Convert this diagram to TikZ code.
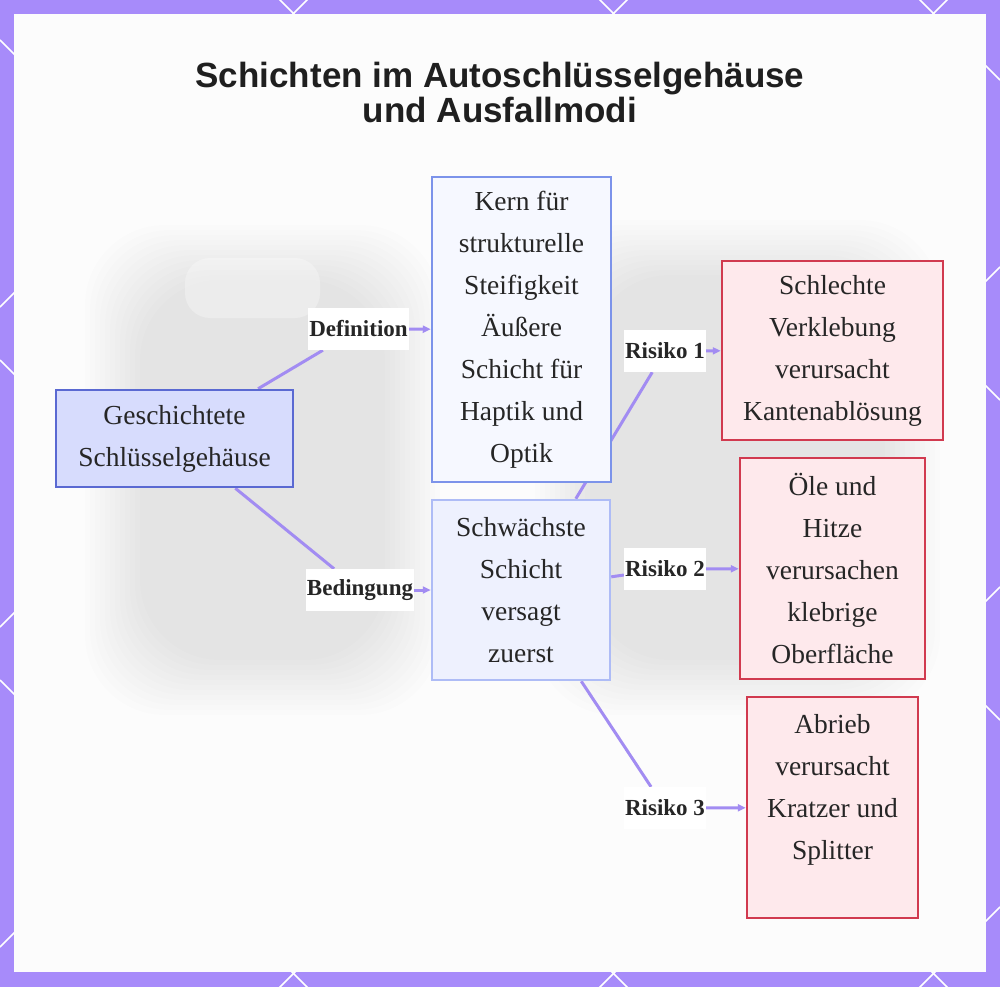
\documentclass[tikz,border=0pt]{standalone}
\usepackage{fontspec}
\setmainfont{Liberation Serif}
\newfontfamily\titlefont{Liberation Sans}
\usetikzlibrary{arrows.meta}

\definecolor{framec}{HTML}{A78BFA}
\definecolor{edgec}{HTML}{A28CF2}
\definecolor{geofill}{HTML}{D7DCFD}
\definecolor{geodraw}{HTML}{5A69D2}
\definecolor{kernfill}{HTML}{F6F8FF}
\definecolor{kerndraw}{HTML}{7C93EA}
\definecolor{weakfill}{HTML}{EEF1FE}
\definecolor{weakdraw}{HTML}{AEBCF6}
\definecolor{riskfill}{HTML}{FEE9EC}
\definecolor{riskdraw}{HTML}{D13A4F}

\pgfdeclarelayer{bg}
\pgfdeclarelayer{edges}
\pgfsetlayers{bg,edges,main}

\tikzset{
  box/.style={rectangle, line width=2.5pt, inner sep=0pt, align=center,
    font=\fontsize{27.5}{42}\selectfont, text=black!85},
  geobox/.style={box, fill=geofill, draw=geodraw},
  kernbox/.style={box, fill=kernfill, draw=kerndraw},
  weakbox/.style={box, fill=weakfill, draw=weakdraw},
  riskbox/.style={box, fill=riskfill, draw=riskdraw},
  lbl/.style={fill=white, inner xsep=1pt, inner ysep=0pt, minimum height=42pt,
    font=\fontsize{23}{26}\selectfont\bfseries, text=black!85},
  link/.style={draw=edgec, line width=3pt},
  arr/.style={link, -{Triangle[length=8pt,width=7pt]}},
}

\begin{document}
\begin{tikzpicture}[x=1pt,y=-1pt]
  \useasboundingbox (0,0) rectangle (1000,987);

  % frame and blurred backdrop
  \begin{pgfonlayer}{bg}
    \fill[framec] (0,0) rectangle (1000,987);
    \begin{scope}
      \clip (0,0) rectangle (1000,987);
      \foreach \c in {-920,-600,-280,40,360,680}
        \draw[white, line width=1.5pt] (0,\c) -- (1000,\c+1000);
      \foreach \c in {307,627,947,1267,1587,1907}
        \draw[white, line width=1.5pt] (0,\c) -- (1000,\c-1000);
    \end{scope}
    \fill[white!99!black] (14,14) rectangle (986,972);
    \foreach \i in {0,...,11} {
      \fill[black, opacity=0.008, rounded corners=80pt]
        (85+\i*5,225+\i*5) rectangle (440-\i*5,715-\i*5);
      \fill[black, opacity=0.008, rounded corners=80pt]
        (535+\i*5,220+\i*5) rectangle (940-\i*5,715-\i*5);
    }
    \fill[white, opacity=0.3, rounded corners=25pt] (185,258) rectangle (320,318);
  \end{pgfonlayer}

  % title
  \node[font=\titlefont\fontsize{35}{35}\selectfont\bfseries, text=black!88, align=center]
    (title) at (500,92) {Schichten im Autoschlüsselgehäuse\\und Ausfallmodi};

  % nodes
  \node[geobox, minimum width=237pt, minimum height=97pt] (geo) at (174.5,438.5)
    {Geschichtete\\Schlüsselgehäuse};
  \node[kernbox, minimum width=179pt, minimum height=305pt] (kern) at (521.5,329.5)
    {Kern für\\strukturelle\\Steifigkeit\\Äußere\\Schicht für\\Haptik und\\Optik};
  \node[weakbox, minimum width=178pt, minimum height=180pt] (weak) at (521,590)
    {Schwächste\\Schicht\\versagt\\zuerst};
  \node[riskbox, minimum width=221pt, minimum height=179pt] (bond) at (832.5,350.5)
    {Schlechte\\Verklebung\\verursacht\\Kantenablösung};
  \node[riskbox, minimum width=185pt, minimum height=221pt] (oil) at (832.5,568.5)
    {Öle und\\Hitze\\verursachen\\klebrige\\Oberfläche};
  \node[riskbox, minimum width=171pt, minimum height=221pt] (wear) at (832.5,807.5)
    {Abrieb\\verursacht\\Kratzer und\\Splitter\\~};

  % edge labels
  \node[lbl] (def) at (358.5,329) {Definition};
  \node[lbl] (cond) at (360,590) {Bedingung};
  \node[lbl] (risk1) at (665,351) {Risiko 1};
  \node[lbl] (risk2) at (665,569) {Risiko 2};
  \node[lbl] (risk3) at (665,808) {Risiko 3};

  % connectors
  \begin{pgfonlayer}{edges}
    \draw[link] (geo) -- (def);
    \draw[arr] (def) -- (kern);
    \draw[link] (geo) -- (cond);
    \draw[arr] (cond) -- (weak);
    \draw[link] (weak) -- (risk1);
    \draw[arr] (risk1) -- (bond);
    \draw[link] (weak) -- (risk2);
    \draw[arr] (risk2) -- (oil);
    \draw[link] (weak) -- (risk3);
    \draw[arr] (risk3) -- (wear);
  \end{pgfonlayer}
\end{tikzpicture}
\end{document}
